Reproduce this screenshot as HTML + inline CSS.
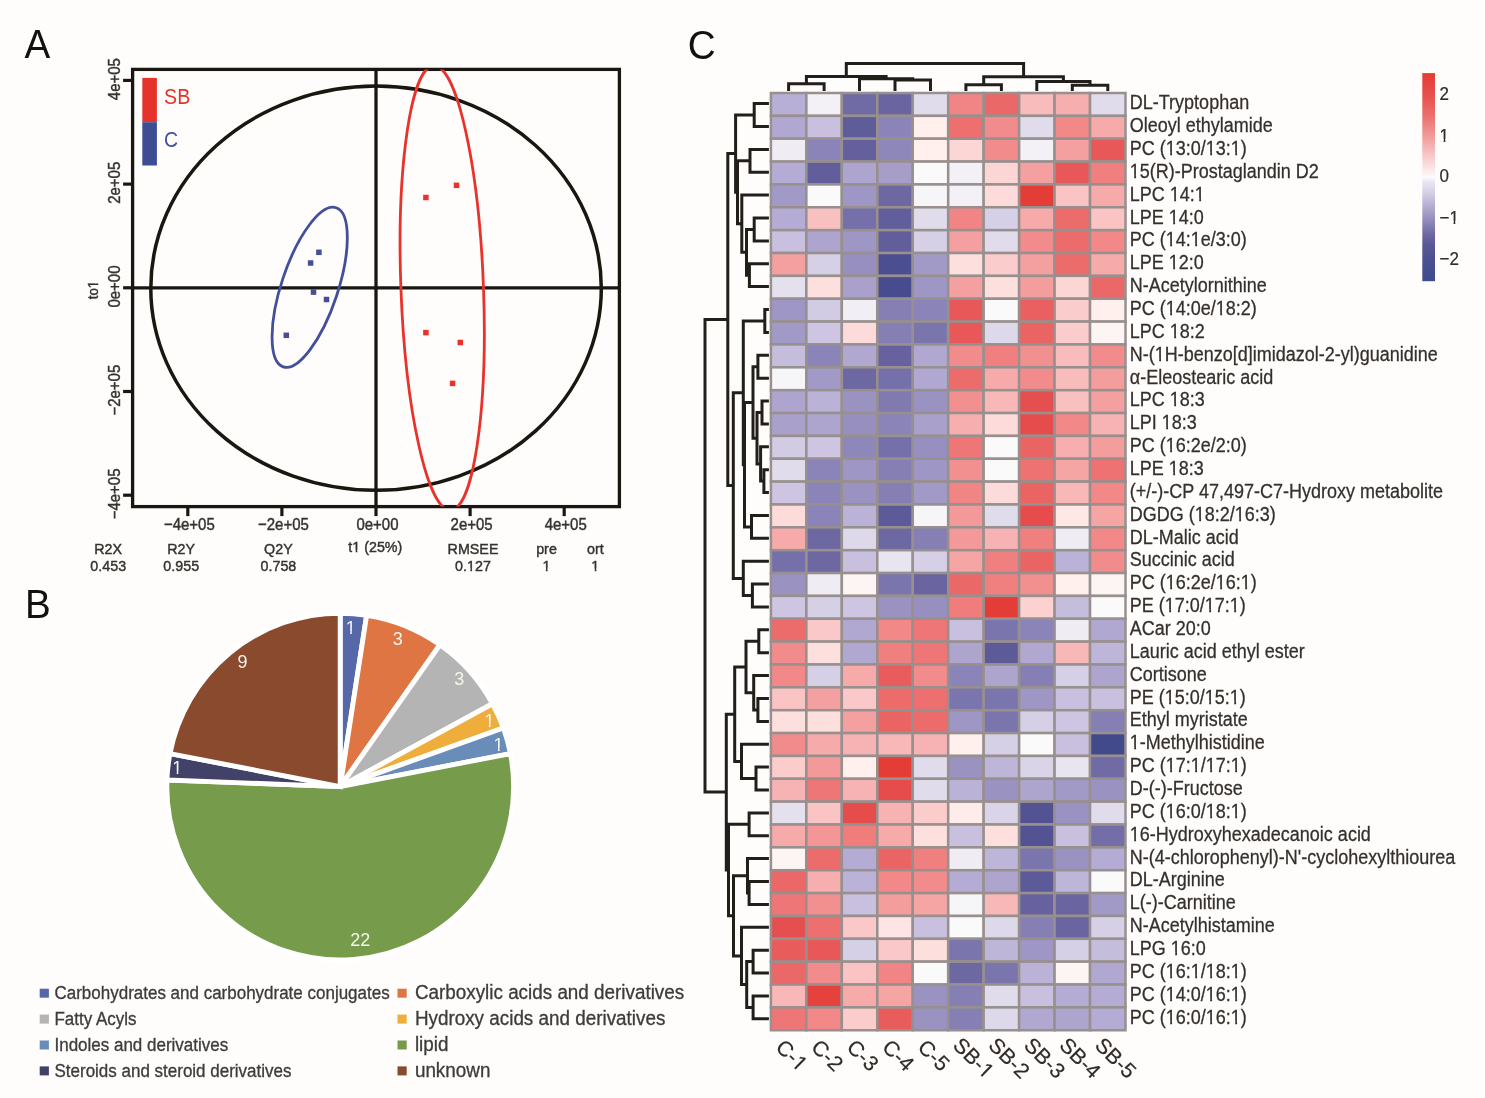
<!DOCTYPE html><html><head><meta charset="utf-8"><style>html,body{margin:0;padding:0;background:#fefdfc;}svg{display:block;will-change:transform} text{font-family:"Liberation Sans",sans-serif}</style></head><body>
<svg width="1485" height="1098" viewBox="0 0 1485 1098">
<rect width="1485" height="1098" fill="#fefdfc"/>
<g fill="#111" font-size="38.6">
<g transform="translate(24.6 58.2) scale(1 1.035)"><text id="t1" >A</text></g>
<g transform="translate(25 618.2) scale(1 1.035)"><text id="t2" >B</text></g>
<g transform="translate(687.8 58.5) scale(1 1.05)"><text id="t3" >C</text></g>
</g>
<defs><clipPath id="fc2"><rect x="127.6" y="69.4" width="496.79999999999995" height="437.20000000000005"/></clipPath><clipPath id="fc"><rect x="132.6" y="69.4" width="486.79999999999995" height="437.20000000000005"/></clipPath></defs>
<ellipse cx="376.05" cy="288.2" rx="225.25" ry="202.1" fill="none" stroke="#1a1711" stroke-width="3.5"/>
<line x1="132.6" y1="287.8" x2="619.4" y2="287.8" stroke="#1a1711" stroke-width="3.3"/>
<line x1="376.0" y1="69.4" x2="376.0" y2="506.6" stroke="#1a1711" stroke-width="3.3"/>
<ellipse cx="0" cy="0" rx="83.8" ry="28.2" transform="translate(309.7 287.3) rotate(-71.6)" fill="none" stroke="#434f98" stroke-width="2.8"/>
<rect x="316.15" y="249.55" width="5.5" height="5.5" fill="#434f98"/>
<rect x="307.85" y="260.25" width="5.5" height="5.5" fill="#434f98"/>
<rect x="310.75" y="289.35" width="5.5" height="5.5" fill="#434f98"/>
<rect x="323.75" y="296.75" width="5.5" height="5.5" fill="#434f98"/>
<rect x="283.55" y="332.55" width="5.5" height="5.5" fill="#434f98"/>
<rect x="453.75" y="182.55" width="5.5" height="5.5" fill="#e8332c"/>
<rect x="423.15" y="194.75" width="5.5" height="5.5" fill="#e8332c"/>
<rect x="423.15" y="329.85" width="5.5" height="5.5" fill="#e8332c"/>
<rect x="457.55" y="339.75" width="5.5" height="5.5" fill="#e8332c"/>
<rect x="449.85" y="380.65" width="5.5" height="5.5" fill="#e8332c"/>
<rect x="132.6" y="69.4" width="486.79999999999995" height="437.20000000000005" fill="none" stroke="#1a1711" stroke-width="3.3"/>
<g clip-path="url(#fc2)"><ellipse cx="0" cy="0" rx="41.3" ry="222.2" transform="translate(442.2 288) skewX(2.1)" fill="none" stroke="#e8332c" stroke-width="2.8"/></g>
<rect x="142.3" y="77.9" width="14.6" height="44.3" fill="#e5332b"/>
<rect x="142.3" y="122.2" width="14.6" height="43.3" fill="#3e4c94"/>
<g transform="translate(164.1 103.5) scale(1.03 1.12)"><text id="t4" font-size="19" fill="#e5332b">SB</text></g>
<g transform="translate(164.1 147.3) scale(1.03 1.12)"><text id="t5" font-size="19" fill="#40509c">C</text></g>
<g stroke="#1a1711" stroke-width="3.2"><line x1="187.8" y1="506.6" x2="187.8" y2="516.1" /><line x1="132.6" y1="495.2" x2="123.1" y2="495.2" /><line x1="281.9" y1="506.6" x2="281.9" y2="516.1" /><line x1="132.6" y1="391.5" x2="123.1" y2="391.5" /><line x1="376.0" y1="506.6" x2="376.0" y2="516.1" /><line x1="132.6" y1="287.8" x2="123.1" y2="287.8" /><line x1="470.1" y1="506.6" x2="470.1" y2="516.1" /><line x1="132.6" y1="184.1" x2="123.1" y2="184.1" /><line x1="564.2" y1="506.6" x2="564.2" y2="516.1" /><line x1="132.6" y1="80.4" x2="123.1" y2="80.4" /></g>
<g font-size="15" fill="#36322e" stroke="#36322e" stroke-width="0.4" text-anchor="middle">
<g transform="translate(189.3 529.8) scale(1 1.12)"><text id="t6" >−4e+05</text></g>
<g transform="translate(283.4 529.8) scale(1 1.12)"><text id="t7" >−2e+05</text></g>
<g transform="translate(377.5 529.8) scale(1 1.12)"><text id="t8" >0e+00</text></g>
<g transform="translate(471.6 529.8) scale(1 1.12)"><text id="t9" >2e+05</text></g>
<g transform="translate(565.7 529.8) scale(1 1.12)"><text id="t10" >4e+05</text></g>
<g transform="translate(120.2 493.9) rotate(-90) scale(1 1.09)"><text id="t11" >−4e+05</text></g>
<g transform="translate(120.2 390.2) rotate(-90) scale(1 1.09)"><text id="t12" >−2e+05</text></g>
<g transform="translate(120.2 286.5) rotate(-90) scale(1 1.09)"><text id="t13" >0e+00</text></g>
<g transform="translate(120.2 182.8) rotate(-90) scale(1 1.09)"><text id="t14" >2e+05</text></g>
<g transform="translate(120.2 79.1) rotate(-90) scale(1 1.09)"><text id="t15" >4e+05</text></g>
<g transform="translate(97.8 290) rotate(-90) scale(1 1.12)"><text id="t16" font-size="13.3">to1</text><rect x="2.05" y="-2.19" width="2.91" height="3.49" fill="#fefdfc" stroke="none"/><rect x="6.58" y="-2.19" width="2.81" height="3.49" fill="#fefdfc" stroke="none"/></g>
</g>
<g font-size="14.3" fill="#36322e" stroke="#36322e" stroke-width="0.4" text-anchor="middle">
<g transform="translate(108.2 553.6) scale(1 1.08)"><text id="t17" >R2X</text></g>
<g transform="translate(108.2 571) scale(1 1.08)"><text id="t18" >0.453</text></g>
<g transform="translate(181.2 553.6) scale(1 1.08)"><text id="t19" >R2Y</text></g>
<g transform="translate(181.2 571) scale(1 1.08)"><text id="t20" >0.955</text></g>
<g transform="translate(278.4 553.6) scale(1 1.08)"><text id="t21" >Q2Y</text></g>
<g transform="translate(278.4 571) scale(1 1.08)"><text id="t22" >0.758</text></g>
<g transform="translate(473 553.6) scale(1 1.08)"><text id="t23" >RMSEE</text></g>
<g transform="translate(473 571) scale(1 1.08)"><text id="t24" >0.127</text><rect x="-5.69" y="-2.27" width="3.09" height="3.57" fill="#fefdfc" stroke="none"/><rect x="-0.89" y="-2.27" width="2.98" height="3.57" fill="#fefdfc" stroke="none"/></g>
<g transform="translate(546.5 553.6) scale(1 1.08)"><text id="t25" >pre</text></g>
<g transform="translate(546.5 571) scale(1 1.08)"><text id="t26" >1</text><rect x="-3.69" y="-2.27" width="3.09" height="3.57" fill="#fefdfc" stroke="none"/><rect x="1.10" y="-2.27" width="2.98" height="3.57" fill="#fefdfc" stroke="none"/></g>
<g transform="translate(595.3 553.6) scale(1 1.08)"><text id="t27" >ort</text></g>
<g transform="translate(595.3 571) scale(1 1.08)"><text id="t28" >1</text><rect x="-3.69" y="-2.27" width="3.09" height="3.57" fill="#fefdfc" stroke="none"/><rect x="1.10" y="-2.27" width="2.98" height="3.57" fill="#fefdfc" stroke="none"/></g>
<g transform="translate(375.3 552.3) scale(1 1.08)"><text id="t29" >t1 (25%)</text><rect x="-22.76" y="-2.27" width="3.09" height="3.57" fill="#fefdfc" stroke="none"/><rect x="-17.96" y="-2.27" width="2.98" height="3.57" fill="#fefdfc" stroke="none"/></g>
</g>
<g stroke="#ffffff" stroke-width="4.9" stroke-linejoin="miter"><path d="M340.2,786.6 L340.20,613.20 A173.4,173.4 0 0 1 366.67,615.23 Z" fill="#5668a8"/><path d="M340.2,786.6 L366.67,615.23 A173.4,173.4 0 0 1 439.96,644.77 Z" fill="#de7542"/><path d="M340.2,786.6 L439.96,644.77 A173.4,173.4 0 0 1 492.53,703.76 Z" fill="#b4b4b4"/><path d="M340.2,786.6 L492.53,703.76 A173.4,173.4 0 0 1 503.39,727.99 Z" fill="#efad3b"/><path d="M340.2,786.6 L503.39,727.99 A173.4,173.4 0 0 1 510.43,753.59 Z" fill="#6a8cb9"/><path d="M340.2,786.6 L510.43,753.59 A173.4,173.4 0 1 1 166.93,779.96 Z" fill="#769b4a"/><path d="M340.2,786.6 L166.93,779.96 A173.4,173.4 0 0 1 169.97,753.59 Z" fill="#424268"/><path d="M340.2,786.6 L169.97,753.59 A173.4,173.4 0 0 1 340.20,613.20 Z" fill="#8a4a2d"/></g>
<g font-size="18" fill="#f3f5ee" text-anchor="middle">
<g transform="translate(350.7 633.6)"><text id="t30" >1</text><rect x="-4.24" y="-2.35" width="3.74" height="3.65" fill="#5668a8" stroke="none"/><rect x="1.13" y="-2.35" width="3.60" height="3.65" fill="#5668a8" stroke="none"/></g>
<g transform="translate(397.8 644.9)"><text id="t31" >3</text></g>
<g transform="translate(459.3 685.3)"><text id="t32" >3</text></g>
<g transform="translate(489.4 726.8)"><text id="t33" >1</text><rect x="-4.24" y="-2.35" width="3.74" height="3.65" fill="#efad3b" stroke="none"/><rect x="1.13" y="-2.35" width="3.60" height="3.65" fill="#efad3b" stroke="none"/></g>
<g transform="translate(498.5 750.5)"><text id="t34" >1</text><rect x="-4.24" y="-2.35" width="3.74" height="3.65" fill="#6a8cb9" stroke="none"/><rect x="1.13" y="-2.35" width="3.60" height="3.65" fill="#6a8cb9" stroke="none"/></g>
<g transform="translate(360.3 946.0)"><text id="t35" >22</text></g>
<g transform="translate(177.2 773.9)"><text id="t36" >1</text><rect x="-4.24" y="-2.35" width="3.74" height="3.65" fill="#424268" stroke="none"/><rect x="1.13" y="-2.35" width="3.60" height="3.65" fill="#424268" stroke="none"/></g>
<g transform="translate(242.5 667.6)"><text id="t37" >9</text></g>
</g>
<rect x="39.7" y="988.7" width="9.2" height="9" fill="#5668a8"/>
<g transform="translate(54.5 998.8) scale(1 1.085)"><text id="t38" font-size="17.0" fill="#3c3c3c" stroke="#3c3c3c" stroke-width="0.3">Carbohydrates and carbohydrate conjugates</text></g>
<rect x="39.7" y="1014.6" width="9.2" height="9" fill="#b4b4b4"/>
<g transform="translate(54.5 1024.7) scale(1 1.085)"><text id="t39" font-size="17.0" fill="#3c3c3c" stroke="#3c3c3c" stroke-width="0.3">Fatty Acyls</text></g>
<rect x="39.7" y="1040.5" width="9.2" height="9" fill="#6a8cb9"/>
<g transform="translate(54.5 1050.6) scale(1 1.085)"><text id="t40" font-size="17.0" fill="#3c3c3c" stroke="#3c3c3c" stroke-width="0.3">Indoles and derivatives</text></g>
<rect x="39.7" y="1066.4" width="9.2" height="9" fill="#424268"/>
<g transform="translate(54.5 1076.5) scale(1 1.085)"><text id="t41" font-size="17.0" fill="#3c3c3c" stroke="#3c3c3c" stroke-width="0.3">Steroids and steroid derivatives</text></g>
<rect x="397.5" y="988.7" width="9.2" height="9" fill="#de7542"/>
<g transform="translate(414.9 998.8) scale(1 1.09)"><text id="t42" font-size="18.86" fill="#3c3c3c" stroke="#3c3c3c" stroke-width="0.3">Carboxylic acids and derivatives</text></g>
<rect x="397.5" y="1014.6" width="9.2" height="9" fill="#efad3b"/>
<g transform="translate(414.9 1024.7) scale(1 1.09)"><text id="t43" font-size="18.86" fill="#3c3c3c" stroke="#3c3c3c" stroke-width="0.3">Hydroxy acids and derivatives</text></g>
<rect x="397.5" y="1040.5" width="9.2" height="9" fill="#769b4a"/>
<g transform="translate(414.9 1050.6) scale(1 1.09)"><text id="t44" font-size="18.86" fill="#3c3c3c" stroke="#3c3c3c" stroke-width="0.3">lipid</text></g>
<rect x="397.5" y="1066.4" width="9.2" height="9" fill="#8a4a2d"/>
<g transform="translate(414.9 1076.5) scale(1 1.09)"><text id="t45" font-size="18.86" fill="#3c3c3c" stroke="#3c3c3c" stroke-width="0.3">unknown</text></g>
<g stroke="#98908e" stroke-width="2.5"><rect x="770.90" y="93.00" width="35.46" height="22.86" fill="#b7afd6"/><rect x="806.36" y="93.00" width="35.46" height="22.86" fill="#f3f0f6"/><rect x="841.82" y="93.00" width="35.46" height="22.86" fill="#706aa5"/><rect x="877.28" y="93.00" width="35.46" height="22.86" fill="#6a64a0"/><rect x="912.74" y="93.00" width="35.46" height="22.86" fill="#e1dcec"/><rect x="948.20" y="93.00" width="35.46" height="22.86" fill="#f18484"/><rect x="983.66" y="93.00" width="35.46" height="22.86" fill="#eb6868"/><rect x="1019.12" y="93.00" width="35.46" height="22.86" fill="#f9bcbc"/><rect x="1054.58" y="93.00" width="35.46" height="22.86" fill="#f7aeae"/><rect x="1090.04" y="93.00" width="35.46" height="22.86" fill="#e1dcec"/><rect x="770.90" y="115.86" width="35.46" height="22.86" fill="#b0a8d1"/><rect x="806.36" y="115.86" width="35.46" height="22.86" fill="#c8c0de"/><rect x="841.82" y="115.86" width="35.46" height="22.86" fill="#5f5c9a"/><rect x="877.28" y="115.86" width="35.46" height="22.86" fill="#8a84b8"/><rect x="912.74" y="115.86" width="35.46" height="22.86" fill="#fff0ee"/><rect x="948.20" y="115.86" width="35.46" height="22.86" fill="#ed6f6f"/><rect x="983.66" y="115.86" width="35.46" height="22.86" fill="#f28c8c"/><rect x="1019.12" y="115.86" width="35.46" height="22.86" fill="#e1dcec"/><rect x="1054.58" y="115.86" width="35.46" height="22.86" fill="#f28888"/><rect x="1090.04" y="115.86" width="35.46" height="22.86" fill="#f6aaaa"/><rect x="770.90" y="138.72" width="35.46" height="22.86" fill="#efecf4"/><rect x="806.36" y="138.72" width="35.46" height="22.86" fill="#8a84b8"/><rect x="841.82" y="138.72" width="35.46" height="22.86" fill="#65609d"/><rect x="877.28" y="138.72" width="35.46" height="22.86" fill="#8e88ba"/><rect x="912.74" y="138.72" width="35.46" height="22.86" fill="#fff0ee"/><rect x="948.20" y="138.72" width="35.46" height="22.86" fill="#fcd6d5"/><rect x="983.66" y="138.72" width="35.46" height="22.86" fill="#f28c8c"/><rect x="1019.12" y="138.72" width="35.46" height="22.86" fill="#f3f0f6"/><rect x="1054.58" y="138.72" width="35.46" height="22.86" fill="#f5a0a0"/><rect x="1090.04" y="138.72" width="35.46" height="22.86" fill="#e85858"/><rect x="770.90" y="161.58" width="35.46" height="22.86" fill="#b4acd4"/><rect x="806.36" y="161.58" width="35.46" height="22.86" fill="#625e9c"/><rect x="841.82" y="161.58" width="35.46" height="22.86" fill="#ada5ce"/><rect x="877.28" y="161.58" width="35.46" height="22.86" fill="#a69ec9"/><rect x="912.74" y="161.58" width="35.46" height="22.86" fill="#fafafa"/><rect x="948.20" y="161.58" width="35.46" height="22.86" fill="#f3f0f6"/><rect x="983.66" y="161.58" width="35.46" height="22.86" fill="#fcd6d5"/><rect x="1019.12" y="161.58" width="35.46" height="22.86" fill="#f5a0a0"/><rect x="1054.58" y="161.58" width="35.46" height="22.86" fill="#e85858"/><rect x="1090.04" y="161.58" width="35.46" height="22.86" fill="#f08080"/><rect x="770.90" y="184.44" width="35.46" height="22.86" fill="#a29ac6"/><rect x="806.36" y="184.44" width="35.46" height="22.86" fill="#fafafa"/><rect x="841.82" y="184.44" width="35.46" height="22.86" fill="#9e96c4"/><rect x="877.28" y="184.44" width="35.46" height="22.86" fill="#6d67a2"/><rect x="912.74" y="184.44" width="35.46" height="22.86" fill="#f6f5f8"/><rect x="948.20" y="184.44" width="35.46" height="22.86" fill="#f3f0f6"/><rect x="983.66" y="184.44" width="35.46" height="22.86" fill="#fcdbda"/><rect x="1019.12" y="184.44" width="35.46" height="22.86" fill="#e43c36"/><rect x="1054.58" y="184.44" width="35.46" height="22.86" fill="#fac4c4"/><rect x="1090.04" y="184.44" width="35.46" height="22.86" fill="#f6aaaa"/><rect x="770.90" y="207.30" width="35.46" height="22.86" fill="#b4acd4"/><rect x="806.36" y="207.30" width="35.46" height="22.86" fill="#f9c0c0"/><rect x="841.82" y="207.30" width="35.46" height="22.86" fill="#7670aa"/><rect x="877.28" y="207.30" width="35.46" height="22.86" fill="#625e9c"/><rect x="912.74" y="207.30" width="35.46" height="22.86" fill="#e1dcec"/><rect x="948.20" y="207.30" width="35.46" height="22.86" fill="#f18484"/><rect x="983.66" y="207.30" width="35.46" height="22.86" fill="#d6d0e6"/><rect x="1019.12" y="207.30" width="35.46" height="22.86" fill="#f6aaaa"/><rect x="1054.58" y="207.30" width="35.46" height="22.86" fill="#ec6c6c"/><rect x="1090.04" y="207.30" width="35.46" height="22.86" fill="#fac4c4"/><rect x="770.90" y="230.16" width="35.46" height="22.86" fill="#c8c0de"/><rect x="806.36" y="230.16" width="35.46" height="22.86" fill="#ada5ce"/><rect x="841.82" y="230.16" width="35.46" height="22.86" fill="#9e96c4"/><rect x="877.28" y="230.16" width="35.46" height="22.86" fill="#625e9c"/><rect x="912.74" y="230.16" width="35.46" height="22.86" fill="#d6d0e6"/><rect x="948.20" y="230.16" width="35.46" height="22.86" fill="#f5a0a0"/><rect x="983.66" y="230.16" width="35.46" height="22.86" fill="#e1dcec"/><rect x="1019.12" y="230.16" width="35.46" height="22.86" fill="#f28c8c"/><rect x="1054.58" y="230.16" width="35.46" height="22.86" fill="#ec6c6c"/><rect x="1090.04" y="230.16" width="35.46" height="22.86" fill="#f28888"/><rect x="770.90" y="253.02" width="35.46" height="22.86" fill="#f5a0a0"/><rect x="806.36" y="253.02" width="35.46" height="22.86" fill="#d6d0e6"/><rect x="841.82" y="253.02" width="35.46" height="22.86" fill="#968fbf"/><rect x="877.28" y="253.02" width="35.46" height="22.86" fill="#4b4e90"/><rect x="912.74" y="253.02" width="35.46" height="22.86" fill="#a29ac6"/><rect x="948.20" y="253.02" width="35.46" height="22.86" fill="#fde0de"/><rect x="983.66" y="253.02" width="35.46" height="22.86" fill="#fbcccc"/><rect x="1019.12" y="253.02" width="35.46" height="22.86" fill="#f5a0a0"/><rect x="1054.58" y="253.02" width="35.46" height="22.86" fill="#ec6c6c"/><rect x="1090.04" y="253.02" width="35.46" height="22.86" fill="#f6aaaa"/><rect x="770.90" y="275.88" width="35.46" height="22.86" fill="#e5e0ee"/><rect x="806.36" y="275.88" width="35.46" height="22.86" fill="#fde0de"/><rect x="841.82" y="275.88" width="35.46" height="22.86" fill="#a9a1cc"/><rect x="877.28" y="275.88" width="35.46" height="22.86" fill="#474c8e"/><rect x="912.74" y="275.88" width="35.46" height="22.86" fill="#9e96c4"/><rect x="948.20" y="275.88" width="35.46" height="22.86" fill="#f5a0a0"/><rect x="983.66" y="275.88" width="35.46" height="22.86" fill="#fde0de"/><rect x="1019.12" y="275.88" width="35.46" height="22.86" fill="#f49d9d"/><rect x="1054.58" y="275.88" width="35.46" height="22.86" fill="#fcd6d5"/><rect x="1090.04" y="275.88" width="35.46" height="22.86" fill="#eb6868"/><rect x="770.90" y="298.74" width="35.46" height="22.86" fill="#9e96c4"/><rect x="806.36" y="298.74" width="35.46" height="22.86" fill="#d1cbe3"/><rect x="841.82" y="298.74" width="35.46" height="22.86" fill="#f2eef5"/><rect x="877.28" y="298.74" width="35.46" height="22.86" fill="#857fb4"/><rect x="912.74" y="298.74" width="35.46" height="22.86" fill="#8a84b8"/><rect x="948.20" y="298.74" width="35.46" height="22.86" fill="#e85858"/><rect x="983.66" y="298.74" width="35.46" height="22.86" fill="#fafafa"/><rect x="1019.12" y="298.74" width="35.46" height="22.86" fill="#ea6060"/><rect x="1054.58" y="298.74" width="35.46" height="22.86" fill="#fbcccc"/><rect x="1090.04" y="298.74" width="35.46" height="22.86" fill="#fff0ee"/><rect x="770.90" y="321.60" width="35.46" height="22.86" fill="#a29ac6"/><rect x="806.36" y="321.60" width="35.46" height="22.86" fill="#cdc5e1"/><rect x="841.82" y="321.60" width="35.46" height="22.86" fill="#fcdbda"/><rect x="877.28" y="321.60" width="35.46" height="22.86" fill="#857fb4"/><rect x="912.74" y="321.60" width="35.46" height="22.86" fill="#7b75ae"/><rect x="948.20" y="321.60" width="35.46" height="22.86" fill="#e85858"/><rect x="983.66" y="321.60" width="35.46" height="22.86" fill="#ddd8ea"/><rect x="1019.12" y="321.60" width="35.46" height="22.86" fill="#ea6464"/><rect x="1054.58" y="321.60" width="35.46" height="22.86" fill="#fbcccc"/><rect x="1090.04" y="321.60" width="35.46" height="22.86" fill="#fcf5f4"/><rect x="770.90" y="344.46" width="35.46" height="22.86" fill="#c5bddc"/><rect x="806.36" y="344.46" width="35.46" height="22.86" fill="#8a84b8"/><rect x="841.82" y="344.46" width="35.46" height="22.86" fill="#b0a8d1"/><rect x="877.28" y="344.46" width="35.46" height="22.86" fill="#67629f"/><rect x="912.74" y="344.46" width="35.46" height="22.86" fill="#b0a8d1"/><rect x="948.20" y="344.46" width="35.46" height="22.86" fill="#f28c8c"/><rect x="983.66" y="344.46" width="35.46" height="22.86" fill="#f08080"/><rect x="1019.12" y="344.46" width="35.46" height="22.86" fill="#f28f8f"/><rect x="1054.58" y="344.46" width="35.46" height="22.86" fill="#f9bcbc"/><rect x="1090.04" y="344.46" width="35.46" height="22.86" fill="#f28c8c"/><rect x="770.90" y="367.32" width="35.46" height="22.86" fill="#f6f5f8"/><rect x="806.36" y="367.32" width="35.46" height="22.86" fill="#a29ac6"/><rect x="841.82" y="367.32" width="35.46" height="22.86" fill="#6d67a2"/><rect x="877.28" y="367.32" width="35.46" height="22.86" fill="#7670aa"/><rect x="912.74" y="367.32" width="35.46" height="22.86" fill="#b0a8d1"/><rect x="948.20" y="367.32" width="35.46" height="22.86" fill="#ec6c6c"/><rect x="983.66" y="367.32" width="35.46" height="22.86" fill="#f6aaaa"/><rect x="1019.12" y="367.32" width="35.46" height="22.86" fill="#f28c8c"/><rect x="1054.58" y="367.32" width="35.46" height="22.86" fill="#f9bcbc"/><rect x="1090.04" y="367.32" width="35.46" height="22.86" fill="#f49d9d"/><rect x="770.90" y="390.18" width="35.46" height="22.86" fill="#ada5ce"/><rect x="806.36" y="390.18" width="35.46" height="22.86" fill="#bbb3d7"/><rect x="841.82" y="390.18" width="35.46" height="22.86" fill="#9a93c1"/><rect x="877.28" y="390.18" width="35.46" height="22.86" fill="#807ab1"/><rect x="912.74" y="390.18" width="35.46" height="22.86" fill="#9a93c1"/><rect x="948.20" y="390.18" width="35.46" height="22.86" fill="#f28f8f"/><rect x="983.66" y="390.18" width="35.46" height="22.86" fill="#f8b8b8"/><rect x="1019.12" y="390.18" width="35.46" height="22.86" fill="#e64f4f"/><rect x="1054.58" y="390.18" width="35.46" height="22.86" fill="#f9c0c0"/><rect x="1090.04" y="390.18" width="35.46" height="22.86" fill="#f5a0a0"/><rect x="770.90" y="413.04" width="35.46" height="22.86" fill="#a9a1cc"/><rect x="806.36" y="413.04" width="35.46" height="22.86" fill="#ada5ce"/><rect x="841.82" y="413.04" width="35.46" height="22.86" fill="#968fbf"/><rect x="877.28" y="413.04" width="35.46" height="22.86" fill="#8a84b8"/><rect x="912.74" y="413.04" width="35.46" height="22.86" fill="#a9a1cc"/><rect x="948.20" y="413.04" width="35.46" height="22.86" fill="#f7aeae"/><rect x="983.66" y="413.04" width="35.46" height="22.86" fill="#fcdbda"/><rect x="1019.12" y="413.04" width="35.46" height="22.86" fill="#e64c4c"/><rect x="1054.58" y="413.04" width="35.46" height="22.86" fill="#f28888"/><rect x="1090.04" y="413.04" width="35.46" height="22.86" fill="#f7b3b3"/><rect x="770.90" y="435.90" width="35.46" height="22.86" fill="#d1cbe3"/><rect x="806.36" y="435.90" width="35.46" height="22.86" fill="#cdc5e1"/><rect x="841.82" y="435.90" width="35.46" height="22.86" fill="#8e88ba"/><rect x="877.28" y="435.90" width="35.46" height="22.86" fill="#7670aa"/><rect x="912.74" y="435.90" width="35.46" height="22.86" fill="#968fbf"/><rect x="948.20" y="435.90" width="35.46" height="22.86" fill="#ee7676"/><rect x="983.66" y="435.90" width="35.46" height="22.86" fill="#fafafa"/><rect x="1019.12" y="435.90" width="35.46" height="22.86" fill="#ea6464"/><rect x="1054.58" y="435.90" width="35.46" height="22.86" fill="#f7aeae"/><rect x="1090.04" y="435.90" width="35.46" height="22.86" fill="#f49d9d"/><rect x="770.90" y="458.76" width="35.46" height="22.86" fill="#e1dcec"/><rect x="806.36" y="458.76" width="35.46" height="22.86" fill="#8a84b8"/><rect x="841.82" y="458.76" width="35.46" height="22.86" fill="#9e96c4"/><rect x="877.28" y="458.76" width="35.46" height="22.86" fill="#857fb4"/><rect x="912.74" y="458.76" width="35.46" height="22.86" fill="#9e96c4"/><rect x="948.20" y="458.76" width="35.46" height="22.86" fill="#f28f8f"/><rect x="983.66" y="458.76" width="35.46" height="22.86" fill="#fafafa"/><rect x="1019.12" y="458.76" width="35.46" height="22.86" fill="#ee7272"/><rect x="1054.58" y="458.76" width="35.46" height="22.86" fill="#f6a5a5"/><rect x="1090.04" y="458.76" width="35.46" height="22.86" fill="#ee7272"/><rect x="770.90" y="481.62" width="35.46" height="22.86" fill="#cdc5e1"/><rect x="806.36" y="481.62" width="35.46" height="22.86" fill="#8a84b8"/><rect x="841.82" y="481.62" width="35.46" height="22.86" fill="#9a93c1"/><rect x="877.28" y="481.62" width="35.46" height="22.86" fill="#857fb4"/><rect x="912.74" y="481.62" width="35.46" height="22.86" fill="#a29ac6"/><rect x="948.20" y="481.62" width="35.46" height="22.86" fill="#f18484"/><rect x="983.66" y="481.62" width="35.46" height="22.86" fill="#fcdbda"/><rect x="1019.12" y="481.62" width="35.46" height="22.86" fill="#ea6464"/><rect x="1054.58" y="481.62" width="35.46" height="22.86" fill="#f8b8b8"/><rect x="1090.04" y="481.62" width="35.46" height="22.86" fill="#f28888"/><rect x="770.90" y="504.48" width="35.46" height="22.86" fill="#fcdbda"/><rect x="806.36" y="504.48" width="35.46" height="22.86" fill="#8a84b8"/><rect x="841.82" y="504.48" width="35.46" height="22.86" fill="#bbb3d7"/><rect x="877.28" y="504.48" width="35.46" height="22.86" fill="#5c5a99"/><rect x="912.74" y="504.48" width="35.46" height="22.86" fill="#f6f5f8"/><rect x="948.20" y="504.48" width="35.46" height="22.86" fill="#f49999"/><rect x="983.66" y="504.48" width="35.46" height="22.86" fill="#e1dcec"/><rect x="1019.12" y="504.48" width="35.46" height="22.86" fill="#e64c4c"/><rect x="1054.58" y="504.48" width="35.46" height="22.86" fill="#fee8e6"/><rect x="1090.04" y="504.48" width="35.46" height="22.86" fill="#f6a5a5"/><rect x="770.90" y="527.34" width="35.46" height="22.86" fill="#f6aaaa"/><rect x="806.36" y="527.34" width="35.46" height="22.86" fill="#6d67a2"/><rect x="841.82" y="527.34" width="35.46" height="22.86" fill="#ddd8ea"/><rect x="877.28" y="527.34" width="35.46" height="22.86" fill="#6d67a2"/><rect x="912.74" y="527.34" width="35.46" height="22.86" fill="#857fb4"/><rect x="948.20" y="527.34" width="35.46" height="22.86" fill="#f49999"/><rect x="983.66" y="527.34" width="35.46" height="22.86" fill="#f7b3b3"/><rect x="1019.12" y="527.34" width="35.46" height="22.86" fill="#f08080"/><rect x="1054.58" y="527.34" width="35.46" height="22.86" fill="#efecf4"/><rect x="1090.04" y="527.34" width="35.46" height="22.86" fill="#f28888"/><rect x="770.90" y="550.20" width="35.46" height="22.86" fill="#7670aa"/><rect x="806.36" y="550.20" width="35.46" height="22.86" fill="#6d67a2"/><rect x="841.82" y="550.20" width="35.46" height="22.86" fill="#c8c0de"/><rect x="877.28" y="550.20" width="35.46" height="22.86" fill="#e8e4f0"/><rect x="912.74" y="550.20" width="35.46" height="22.86" fill="#d6d0e6"/><rect x="948.20" y="550.20" width="35.46" height="22.86" fill="#f6a5a5"/><rect x="983.66" y="550.20" width="35.46" height="22.86" fill="#f08080"/><rect x="1019.12" y="550.20" width="35.46" height="22.86" fill="#ea6464"/><rect x="1054.58" y="550.20" width="35.46" height="22.86" fill="#bbb3d7"/><rect x="1090.04" y="550.20" width="35.46" height="22.86" fill="#f28c8c"/><rect x="770.90" y="573.05" width="35.46" height="22.86" fill="#9a93c1"/><rect x="806.36" y="573.05" width="35.46" height="22.86" fill="#efecf4"/><rect x="841.82" y="573.05" width="35.46" height="22.86" fill="#fcf5f4"/><rect x="877.28" y="573.05" width="35.46" height="22.86" fill="#7b75ae"/><rect x="912.74" y="573.05" width="35.46" height="22.86" fill="#6a64a0"/><rect x="948.20" y="573.05" width="35.46" height="22.86" fill="#eb6868"/><rect x="983.66" y="573.05" width="35.46" height="22.86" fill="#f08080"/><rect x="1019.12" y="573.05" width="35.46" height="22.86" fill="#f28f8f"/><rect x="1054.58" y="573.05" width="35.46" height="22.86" fill="#fff0ee"/><rect x="1090.04" y="573.05" width="35.46" height="22.86" fill="#fcf5f4"/><rect x="770.90" y="595.91" width="35.46" height="22.86" fill="#cdc5e1"/><rect x="806.36" y="595.91" width="35.46" height="22.86" fill="#d6d0e6"/><rect x="841.82" y="595.91" width="35.46" height="22.86" fill="#cdc5e1"/><rect x="877.28" y="595.91" width="35.46" height="22.86" fill="#9a93c1"/><rect x="912.74" y="595.91" width="35.46" height="22.86" fill="#968fbf"/><rect x="948.20" y="595.91" width="35.46" height="22.86" fill="#f07c7c"/><rect x="983.66" y="595.91" width="35.46" height="22.86" fill="#e43c36"/><rect x="1019.12" y="595.91" width="35.46" height="22.86" fill="#fcd1d0"/><rect x="1054.58" y="595.91" width="35.46" height="22.86" fill="#c5bddc"/><rect x="1090.04" y="595.91" width="35.46" height="22.86" fill="#fafafa"/><rect x="770.90" y="618.77" width="35.46" height="22.86" fill="#ec6c6c"/><rect x="806.36" y="618.77" width="35.46" height="22.86" fill="#fac8c8"/><rect x="841.82" y="618.77" width="35.46" height="22.86" fill="#b0a8d1"/><rect x="877.28" y="618.77" width="35.46" height="22.86" fill="#f28888"/><rect x="912.74" y="618.77" width="35.46" height="22.86" fill="#ee7676"/><rect x="948.20" y="618.77" width="35.46" height="22.86" fill="#c8c0de"/><rect x="983.66" y="618.77" width="35.46" height="22.86" fill="#7b75ae"/><rect x="1019.12" y="618.77" width="35.46" height="22.86" fill="#8a84b8"/><rect x="1054.58" y="618.77" width="35.46" height="22.86" fill="#efecf4"/><rect x="1090.04" y="618.77" width="35.46" height="22.86" fill="#b0a8d1"/><rect x="770.90" y="641.63" width="35.46" height="22.86" fill="#f28c8c"/><rect x="806.36" y="641.63" width="35.46" height="22.86" fill="#fde0de"/><rect x="841.82" y="641.63" width="35.46" height="22.86" fill="#b0a8d1"/><rect x="877.28" y="641.63" width="35.46" height="22.86" fill="#f08080"/><rect x="912.74" y="641.63" width="35.46" height="22.86" fill="#ee7676"/><rect x="948.20" y="641.63" width="35.46" height="22.86" fill="#ada5ce"/><rect x="983.66" y="641.63" width="35.46" height="22.86" fill="#5c5a99"/><rect x="1019.12" y="641.63" width="35.46" height="22.86" fill="#b0a8d1"/><rect x="1054.58" y="641.63" width="35.46" height="22.86" fill="#f8b8b8"/><rect x="1090.04" y="641.63" width="35.46" height="22.86" fill="#beb6d9"/><rect x="770.90" y="664.49" width="35.46" height="22.86" fill="#f28888"/><rect x="806.36" y="664.49" width="35.46" height="22.86" fill="#d6d0e6"/><rect x="841.82" y="664.49" width="35.46" height="22.86" fill="#f6aaaa"/><rect x="877.28" y="664.49" width="35.46" height="22.86" fill="#e95c5c"/><rect x="912.74" y="664.49" width="35.46" height="22.86" fill="#f28c8c"/><rect x="948.20" y="664.49" width="35.46" height="22.86" fill="#8a84b8"/><rect x="983.66" y="664.49" width="35.46" height="22.86" fill="#ada5ce"/><rect x="1019.12" y="664.49" width="35.46" height="22.86" fill="#857fb4"/><rect x="1054.58" y="664.49" width="35.46" height="22.86" fill="#d6d0e6"/><rect x="1090.04" y="664.49" width="35.46" height="22.86" fill="#ada5ce"/><rect x="770.90" y="687.35" width="35.46" height="22.86" fill="#fac4c4"/><rect x="806.36" y="687.35" width="35.46" height="22.86" fill="#f5a0a0"/><rect x="841.82" y="687.35" width="35.46" height="22.86" fill="#fac8c8"/><rect x="877.28" y="687.35" width="35.46" height="22.86" fill="#ec6c6c"/><rect x="912.74" y="687.35" width="35.46" height="22.86" fill="#ed6f6f"/><rect x="948.20" y="687.35" width="35.46" height="22.86" fill="#7b75ae"/><rect x="983.66" y="687.35" width="35.46" height="22.86" fill="#7b75ae"/><rect x="1019.12" y="687.35" width="35.46" height="22.86" fill="#9e96c4"/><rect x="1054.58" y="687.35" width="35.46" height="22.86" fill="#c8c0de"/><rect x="1090.04" y="687.35" width="35.46" height="22.86" fill="#c8c0de"/><rect x="770.90" y="710.21" width="35.46" height="22.86" fill="#fde0de"/><rect x="806.36" y="710.21" width="35.46" height="22.86" fill="#fde0de"/><rect x="841.82" y="710.21" width="35.46" height="22.86" fill="#f5a0a0"/><rect x="877.28" y="710.21" width="35.46" height="22.86" fill="#ea6464"/><rect x="912.74" y="710.21" width="35.46" height="22.86" fill="#ec6c6c"/><rect x="948.20" y="710.21" width="35.46" height="22.86" fill="#9e96c4"/><rect x="983.66" y="710.21" width="35.46" height="22.86" fill="#7b75ae"/><rect x="1019.12" y="710.21" width="35.46" height="22.86" fill="#d6d0e6"/><rect x="1054.58" y="710.21" width="35.46" height="22.86" fill="#cdc5e1"/><rect x="1090.04" y="710.21" width="35.46" height="22.86" fill="#857fb4"/><rect x="770.90" y="733.07" width="35.46" height="22.86" fill="#f28c8c"/><rect x="806.36" y="733.07" width="35.46" height="22.86" fill="#f6aaaa"/><rect x="841.82" y="733.07" width="35.46" height="22.86" fill="#f7b3b3"/><rect x="877.28" y="733.07" width="35.46" height="22.86" fill="#f8b8b8"/><rect x="912.74" y="733.07" width="35.46" height="22.86" fill="#f7b3b3"/><rect x="948.20" y="733.07" width="35.46" height="22.86" fill="#fff0ee"/><rect x="983.66" y="733.07" width="35.46" height="22.86" fill="#d6d0e6"/><rect x="1019.12" y="733.07" width="35.46" height="22.86" fill="#fafafa"/><rect x="1054.58" y="733.07" width="35.46" height="22.86" fill="#c8c0de"/><rect x="1090.04" y="733.07" width="35.46" height="22.86" fill="#434a8c"/><rect x="770.90" y="755.93" width="35.46" height="22.86" fill="#fbcccc"/><rect x="806.36" y="755.93" width="35.46" height="22.86" fill="#f49999"/><rect x="841.82" y="755.93" width="35.46" height="22.86" fill="#fff0ee"/><rect x="877.28" y="755.93" width="35.46" height="22.86" fill="#e43c36"/><rect x="912.74" y="755.93" width="35.46" height="22.86" fill="#e1dcec"/><rect x="948.20" y="755.93" width="35.46" height="22.86" fill="#9a93c1"/><rect x="983.66" y="755.93" width="35.46" height="22.86" fill="#beb6d9"/><rect x="1019.12" y="755.93" width="35.46" height="22.86" fill="#dad4e8"/><rect x="1054.58" y="755.93" width="35.46" height="22.86" fill="#e8e4f0"/><rect x="1090.04" y="755.93" width="35.46" height="22.86" fill="#706aa5"/><rect x="770.90" y="778.79" width="35.46" height="22.86" fill="#f7b3b3"/><rect x="806.36" y="778.79" width="35.46" height="22.86" fill="#ee7676"/><rect x="841.82" y="778.79" width="35.46" height="22.86" fill="#f7b3b3"/><rect x="877.28" y="778.79" width="35.46" height="22.86" fill="#e64c4c"/><rect x="912.74" y="778.79" width="35.46" height="22.86" fill="#e1dcec"/><rect x="948.20" y="778.79" width="35.46" height="22.86" fill="#bbb3d7"/><rect x="983.66" y="778.79" width="35.46" height="22.86" fill="#9a93c1"/><rect x="1019.12" y="778.79" width="35.46" height="22.86" fill="#ada5ce"/><rect x="1054.58" y="778.79" width="35.46" height="22.86" fill="#a29ac6"/><rect x="1090.04" y="778.79" width="35.46" height="22.86" fill="#9a93c1"/><rect x="770.90" y="801.65" width="35.46" height="22.86" fill="#e5e0ee"/><rect x="806.36" y="801.65" width="35.46" height="22.86" fill="#fac4c4"/><rect x="841.82" y="801.65" width="35.46" height="22.86" fill="#e64c4c"/><rect x="877.28" y="801.65" width="35.46" height="22.86" fill="#f7b3b3"/><rect x="912.74" y="801.65" width="35.46" height="22.86" fill="#fbcccc"/><rect x="948.20" y="801.65" width="35.46" height="22.86" fill="#feecea"/><rect x="983.66" y="801.65" width="35.46" height="22.86" fill="#dad4e8"/><rect x="1019.12" y="801.65" width="35.46" height="22.86" fill="#535394"/><rect x="1054.58" y="801.65" width="35.46" height="22.86" fill="#9a93c1"/><rect x="1090.04" y="801.65" width="35.46" height="22.86" fill="#e1dcec"/><rect x="770.90" y="824.51" width="35.46" height="22.86" fill="#f6aaaa"/><rect x="806.36" y="824.51" width="35.46" height="22.86" fill="#f49696"/><rect x="841.82" y="824.51" width="35.46" height="22.86" fill="#f07c7c"/><rect x="877.28" y="824.51" width="35.46" height="22.86" fill="#f6aaaa"/><rect x="912.74" y="824.51" width="35.46" height="22.86" fill="#fde0de"/><rect x="948.20" y="824.51" width="35.46" height="22.86" fill="#c8c0de"/><rect x="983.66" y="824.51" width="35.46" height="22.86" fill="#fde0de"/><rect x="1019.12" y="824.51" width="35.46" height="22.86" fill="#535394"/><rect x="1054.58" y="824.51" width="35.46" height="22.86" fill="#c8c0de"/><rect x="1090.04" y="824.51" width="35.46" height="22.86" fill="#736da8"/><rect x="770.90" y="847.37" width="35.46" height="22.86" fill="#fcf5f4"/><rect x="806.36" y="847.37" width="35.46" height="22.86" fill="#ec6c6c"/><rect x="841.82" y="847.37" width="35.46" height="22.86" fill="#b4acd4"/><rect x="877.28" y="847.37" width="35.46" height="22.86" fill="#ea6464"/><rect x="912.74" y="847.37" width="35.46" height="22.86" fill="#f08080"/><rect x="948.20" y="847.37" width="35.46" height="22.86" fill="#efecf4"/><rect x="983.66" y="847.37" width="35.46" height="22.86" fill="#beb6d9"/><rect x="1019.12" y="847.37" width="35.46" height="22.86" fill="#7b75ae"/><rect x="1054.58" y="847.37" width="35.46" height="22.86" fill="#9a93c1"/><rect x="1090.04" y="847.37" width="35.46" height="22.86" fill="#b4acd4"/><rect x="770.90" y="870.23" width="35.46" height="22.86" fill="#eb6868"/><rect x="806.36" y="870.23" width="35.46" height="22.86" fill="#f7aeae"/><rect x="841.82" y="870.23" width="35.46" height="22.86" fill="#bbb3d7"/><rect x="877.28" y="870.23" width="35.46" height="22.86" fill="#f28888"/><rect x="912.74" y="870.23" width="35.46" height="22.86" fill="#f28c8c"/><rect x="948.20" y="870.23" width="35.46" height="22.86" fill="#b4acd4"/><rect x="983.66" y="870.23" width="35.46" height="22.86" fill="#ada5ce"/><rect x="1019.12" y="870.23" width="35.46" height="22.86" fill="#5c5a99"/><rect x="1054.58" y="870.23" width="35.46" height="22.86" fill="#beb6d9"/><rect x="1090.04" y="870.23" width="35.46" height="22.86" fill="#fafafa"/><rect x="770.90" y="893.09" width="35.46" height="22.86" fill="#ee7676"/><rect x="806.36" y="893.09" width="35.46" height="22.86" fill="#f28f8f"/><rect x="841.82" y="893.09" width="35.46" height="22.86" fill="#c8c0de"/><rect x="877.28" y="893.09" width="35.46" height="22.86" fill="#f49d9d"/><rect x="912.74" y="893.09" width="35.46" height="22.86" fill="#f6a5a5"/><rect x="948.20" y="893.09" width="35.46" height="22.86" fill="#f6f5f8"/><rect x="983.66" y="893.09" width="35.46" height="22.86" fill="#f8b8b8"/><rect x="1019.12" y="893.09" width="35.46" height="22.86" fill="#67629f"/><rect x="1054.58" y="893.09" width="35.46" height="22.86" fill="#6a64a0"/><rect x="1090.04" y="893.09" width="35.46" height="22.86" fill="#a29ac6"/><rect x="770.90" y="915.95" width="35.46" height="22.86" fill="#e64f4f"/><rect x="806.36" y="915.95" width="35.46" height="22.86" fill="#ed6f6f"/><rect x="841.82" y="915.95" width="35.46" height="22.86" fill="#fac8c8"/><rect x="877.28" y="915.95" width="35.46" height="22.86" fill="#fee4e2"/><rect x="912.74" y="915.95" width="35.46" height="22.86" fill="#c8c0de"/><rect x="948.20" y="915.95" width="35.46" height="22.86" fill="#fafafa"/><rect x="983.66" y="915.95" width="35.46" height="22.86" fill="#ddd8ea"/><rect x="1019.12" y="915.95" width="35.46" height="22.86" fill="#857fb4"/><rect x="1054.58" y="915.95" width="35.46" height="22.86" fill="#6a64a0"/><rect x="1090.04" y="915.95" width="35.46" height="22.86" fill="#d6d0e6"/><rect x="770.90" y="938.81" width="35.46" height="22.86" fill="#e95c5c"/><rect x="806.36" y="938.81" width="35.46" height="22.86" fill="#e85858"/><rect x="841.82" y="938.81" width="35.46" height="22.86" fill="#d6d0e6"/><rect x="877.28" y="938.81" width="35.46" height="22.86" fill="#fac8c8"/><rect x="912.74" y="938.81" width="35.46" height="22.86" fill="#fde0de"/><rect x="948.20" y="938.81" width="35.46" height="22.86" fill="#7b75ae"/><rect x="983.66" y="938.81" width="35.46" height="22.86" fill="#beb6d9"/><rect x="1019.12" y="938.81" width="35.46" height="22.86" fill="#9e96c4"/><rect x="1054.58" y="938.81" width="35.46" height="22.86" fill="#d6d0e6"/><rect x="1090.04" y="938.81" width="35.46" height="22.86" fill="#c5bddc"/><rect x="770.90" y="961.67" width="35.46" height="22.86" fill="#eb6868"/><rect x="806.36" y="961.67" width="35.46" height="22.86" fill="#f28c8c"/><rect x="841.82" y="961.67" width="35.46" height="22.86" fill="#fac4c4"/><rect x="877.28" y="961.67" width="35.46" height="22.86" fill="#f18484"/><rect x="912.74" y="961.67" width="35.46" height="22.86" fill="#fafafa"/><rect x="948.20" y="961.67" width="35.46" height="22.86" fill="#6d67a2"/><rect x="983.66" y="961.67" width="35.46" height="22.86" fill="#7b75ae"/><rect x="1019.12" y="961.67" width="35.46" height="22.86" fill="#bbb3d7"/><rect x="1054.58" y="961.67" width="35.46" height="22.86" fill="#fcf5f4"/><rect x="1090.04" y="961.67" width="35.46" height="22.86" fill="#b0a8d1"/><rect x="770.90" y="984.53" width="35.46" height="22.86" fill="#f8b8b8"/><rect x="806.36" y="984.53" width="35.46" height="22.86" fill="#e5413d"/><rect x="841.82" y="984.53" width="35.46" height="22.86" fill="#f6aaaa"/><rect x="877.28" y="984.53" width="35.46" height="22.86" fill="#f6a5a5"/><rect x="912.74" y="984.53" width="35.46" height="22.86" fill="#9a93c1"/><rect x="948.20" y="984.53" width="35.46" height="22.86" fill="#857fb4"/><rect x="983.66" y="984.53" width="35.46" height="22.86" fill="#e1dcec"/><rect x="1019.12" y="984.53" width="35.46" height="22.86" fill="#c8c0de"/><rect x="1054.58" y="984.53" width="35.46" height="22.86" fill="#b4acd4"/><rect x="1090.04" y="984.53" width="35.46" height="22.86" fill="#b4acd4"/><rect x="770.90" y="1007.39" width="35.46" height="22.86" fill="#ee7676"/><rect x="806.36" y="1007.39" width="35.46" height="22.86" fill="#f28888"/><rect x="841.82" y="1007.39" width="35.46" height="22.86" fill="#fbcccc"/><rect x="877.28" y="1007.39" width="35.46" height="22.86" fill="#e95c5c"/><rect x="912.74" y="1007.39" width="35.46" height="22.86" fill="#9a93c1"/><rect x="948.20" y="1007.39" width="35.46" height="22.86" fill="#857fb4"/><rect x="983.66" y="1007.39" width="35.46" height="22.86" fill="#ddd8ea"/><rect x="1019.12" y="1007.39" width="35.46" height="22.86" fill="#b0a8d1"/><rect x="1054.58" y="1007.39" width="35.46" height="22.86" fill="#ada5ce"/><rect x="1090.04" y="1007.39" width="35.46" height="22.86" fill="#b4acd4"/></g>
<g font-size="18.0" fill="#35302c" stroke="#35302c" stroke-width="0.25">
<g transform="translate(1129.8 109.23) scale(1 1.14)"><text id="t46" >DL-Tryptophan</text></g>
<g transform="translate(1129.8 132.09) scale(1 1.14)"><text id="t47" >Oleoyl ethylamide</text></g>
<g transform="translate(1129.8 154.95) scale(1 1.14)"><text id="t48" >PC (13:0/13:1)</text><rect x="36.64" y="-2.47" width="3.74" height="3.77" fill="#fefdfc" stroke="none"/><rect x="42.25" y="-2.47" width="3.59" height="3.77" fill="#fefdfc" stroke="none"/><rect x="76.65" y="-2.47" width="3.74" height="3.77" fill="#fefdfc" stroke="none"/><rect x="82.28" y="-2.47" width="3.60" height="3.77" fill="#fefdfc" stroke="none"/><rect x="101.67" y="-2.47" width="3.74" height="3.77" fill="#fefdfc" stroke="none"/><rect x="107.30" y="-2.47" width="3.60" height="3.77" fill="#fefdfc" stroke="none"/></g>
<g transform="translate(1129.8 177.81) scale(1 1.14)"><text id="t49" >15(R)-Prostaglandin D2</text><rect x="0.65" y="-2.47" width="3.74" height="3.77" fill="#fefdfc" stroke="none"/><rect x="6.26" y="-2.47" width="3.59" height="3.77" fill="#fefdfc" stroke="none"/></g>
<g transform="translate(1129.8 200.67) scale(1 1.14)"><text id="t50" >LPC 14:1</text><rect x="40.65" y="-2.47" width="3.74" height="3.77" fill="#fefdfc" stroke="none"/><rect x="46.27" y="-2.47" width="3.60" height="3.77" fill="#fefdfc" stroke="none"/><rect x="65.67" y="-2.47" width="3.74" height="3.77" fill="#fefdfc" stroke="none"/><rect x="71.29" y="-2.47" width="3.60" height="3.77" fill="#fefdfc" stroke="none"/></g>
<g transform="translate(1129.8 223.53) scale(1 1.14)"><text id="t51" >LPE 14:0</text><rect x="39.66" y="-2.47" width="3.74" height="3.77" fill="#fefdfc" stroke="none"/><rect x="45.28" y="-2.47" width="3.60" height="3.77" fill="#fefdfc" stroke="none"/></g>
<g transform="translate(1129.8 246.39) scale(1 1.14)"><text id="t52" >PC (14:1e/3:0)</text><rect x="36.64" y="-2.47" width="3.74" height="3.77" fill="#fefdfc" stroke="none"/><rect x="42.25" y="-2.47" width="3.59" height="3.77" fill="#fefdfc" stroke="none"/><rect x="61.65" y="-2.47" width="3.74" height="3.77" fill="#fefdfc" stroke="none"/><rect x="67.27" y="-2.47" width="3.60" height="3.77" fill="#fefdfc" stroke="none"/></g>
<g transform="translate(1129.8 269.25) scale(1 1.14)"><text id="t53" >LPE 12:0</text><rect x="39.66" y="-2.47" width="3.74" height="3.77" fill="#fefdfc" stroke="none"/><rect x="45.28" y="-2.47" width="3.60" height="3.77" fill="#fefdfc" stroke="none"/></g>
<g transform="translate(1129.8 292.11) scale(1 1.14)"><text id="t54" >N-Acetylornithine</text></g>
<g transform="translate(1129.8 314.97) scale(1 1.14)"><text id="t55" >PC (14:0e/18:2)</text><rect x="36.64" y="-2.47" width="3.74" height="3.77" fill="#fefdfc" stroke="none"/><rect x="42.25" y="-2.47" width="3.59" height="3.77" fill="#fefdfc" stroke="none"/><rect x="86.66" y="-2.47" width="3.74" height="3.77" fill="#fefdfc" stroke="none"/><rect x="92.29" y="-2.47" width="3.60" height="3.77" fill="#fefdfc" stroke="none"/></g>
<g transform="translate(1129.8 337.83) scale(1 1.14)"><text id="t56" >LPC 18:2</text><rect x="40.65" y="-2.47" width="3.74" height="3.77" fill="#fefdfc" stroke="none"/><rect x="46.27" y="-2.47" width="3.60" height="3.77" fill="#fefdfc" stroke="none"/></g>
<g transform="translate(1129.8 360.69) scale(1 1.14)"><text id="t57" >N-(1H-benzo[d]imidazol-2-yl)guanidine</text><rect x="25.62" y="-2.47" width="3.74" height="3.77" fill="#fefdfc" stroke="none"/><rect x="31.25" y="-2.47" width="3.60" height="3.77" fill="#fefdfc" stroke="none"/></g>
<g transform="translate(1129.8 383.55) scale(1 1.14)"><text id="t58" >α-Eleostearic acid</text></g>
<g transform="translate(1129.8 406.41) scale(1 1.14)"><text id="t59" >LPC 18:3</text><rect x="40.65" y="-2.47" width="3.74" height="3.77" fill="#fefdfc" stroke="none"/><rect x="46.27" y="-2.47" width="3.60" height="3.77" fill="#fefdfc" stroke="none"/></g>
<g transform="translate(1129.8 429.27) scale(1 1.14)"><text id="t60" >LPI 18:3</text><rect x="32.65" y="-2.47" width="3.74" height="3.77" fill="#fefdfc" stroke="none"/><rect x="38.27" y="-2.47" width="3.60" height="3.77" fill="#fefdfc" stroke="none"/></g>
<g transform="translate(1129.8 452.13) scale(1 1.14)"><text id="t61" >PC (16:2e/2:0)</text><rect x="36.64" y="-2.47" width="3.74" height="3.77" fill="#fefdfc" stroke="none"/><rect x="42.25" y="-2.47" width="3.59" height="3.77" fill="#fefdfc" stroke="none"/></g>
<g transform="translate(1129.8 474.99) scale(1 1.14)"><text id="t62" >LPE 18:3</text><rect x="39.66" y="-2.47" width="3.74" height="3.77" fill="#fefdfc" stroke="none"/><rect x="45.28" y="-2.47" width="3.60" height="3.77" fill="#fefdfc" stroke="none"/></g>
<g transform="translate(1129.8 497.85) scale(1 1.14)"><text id="t63" >(+/-)-CP 47,497-C7-Hydroxy metabolite</text></g>
<g transform="translate(1129.8 520.71) scale(1 1.14)"><text id="t64" >DGDG (18:2/16:3)</text><rect x="65.62" y="-2.47" width="3.74" height="3.77" fill="#fefdfc" stroke="none"/><rect x="71.25" y="-2.47" width="3.60" height="3.77" fill="#fefdfc" stroke="none"/><rect x="105.65" y="-2.47" width="3.74" height="3.77" fill="#fefdfc" stroke="none"/><rect x="111.27" y="-2.47" width="3.60" height="3.77" fill="#fefdfc" stroke="none"/></g>
<g transform="translate(1129.8 543.57) scale(1 1.14)"><text id="t65" >DL-Malic acid</text></g>
<g transform="translate(1129.8 566.42) scale(1 1.14)"><text id="t66" >Succinic acid</text></g>
<g transform="translate(1129.8 589.28) scale(1 1.14)"><text id="t67" >PC (16:2e/16:1)</text><rect x="36.64" y="-2.47" width="3.74" height="3.77" fill="#fefdfc" stroke="none"/><rect x="42.25" y="-2.47" width="3.59" height="3.77" fill="#fefdfc" stroke="none"/><rect x="86.66" y="-2.47" width="3.74" height="3.77" fill="#fefdfc" stroke="none"/><rect x="92.29" y="-2.47" width="3.60" height="3.77" fill="#fefdfc" stroke="none"/><rect x="111.68" y="-2.47" width="3.74" height="3.77" fill="#fefdfc" stroke="none"/><rect x="117.31" y="-2.47" width="3.60" height="3.77" fill="#fefdfc" stroke="none"/></g>
<g transform="translate(1129.8 612.14) scale(1 1.14)"><text id="t68" >PE (17:0/17:1)</text><rect x="35.63" y="-2.47" width="3.74" height="3.77" fill="#fefdfc" stroke="none"/><rect x="41.26" y="-2.47" width="3.60" height="3.77" fill="#fefdfc" stroke="none"/><rect x="75.66" y="-2.47" width="3.74" height="3.77" fill="#fefdfc" stroke="none"/><rect x="81.29" y="-2.47" width="3.60" height="3.77" fill="#fefdfc" stroke="none"/><rect x="100.68" y="-2.47" width="3.74" height="3.77" fill="#fefdfc" stroke="none"/><rect x="106.31" y="-2.47" width="3.60" height="3.77" fill="#fefdfc" stroke="none"/></g>
<g transform="translate(1129.8 635.00) scale(1 1.14)"><text id="t69" >ACar 20:0</text></g>
<g transform="translate(1129.8 657.86) scale(1 1.14)"><text id="t70" >Lauric acid ethyl ester</text></g>
<g transform="translate(1129.8 680.72) scale(1 1.14)"><text id="t71" >Cortisone</text></g>
<g transform="translate(1129.8 703.58) scale(1 1.14)"><text id="t72" >PE (15:0/15:1)</text><rect x="35.63" y="-2.47" width="3.74" height="3.77" fill="#fefdfc" stroke="none"/><rect x="41.26" y="-2.47" width="3.60" height="3.77" fill="#fefdfc" stroke="none"/><rect x="75.66" y="-2.47" width="3.74" height="3.77" fill="#fefdfc" stroke="none"/><rect x="81.29" y="-2.47" width="3.60" height="3.77" fill="#fefdfc" stroke="none"/><rect x="100.68" y="-2.47" width="3.74" height="3.77" fill="#fefdfc" stroke="none"/><rect x="106.31" y="-2.47" width="3.60" height="3.77" fill="#fefdfc" stroke="none"/></g>
<g transform="translate(1129.8 726.44) scale(1 1.14)"><text id="t73" >Ethyl myristate</text></g>
<g transform="translate(1129.8 749.30) scale(1 1.14)"><text id="t74" >1-Methylhistidine</text><rect x="0.65" y="-2.47" width="3.74" height="3.77" fill="#fefdfc" stroke="none"/><rect x="6.26" y="-2.47" width="3.59" height="3.77" fill="#fefdfc" stroke="none"/></g>
<g transform="translate(1129.8 772.16) scale(1 1.14)"><text id="t75" >PC (17:1/17:1)</text><rect x="36.64" y="-2.47" width="3.74" height="3.77" fill="#fefdfc" stroke="none"/><rect x="42.25" y="-2.47" width="3.59" height="3.77" fill="#fefdfc" stroke="none"/><rect x="61.65" y="-2.47" width="3.74" height="3.77" fill="#fefdfc" stroke="none"/><rect x="67.27" y="-2.47" width="3.60" height="3.77" fill="#fefdfc" stroke="none"/><rect x="76.65" y="-2.47" width="3.74" height="3.77" fill="#fefdfc" stroke="none"/><rect x="82.28" y="-2.47" width="3.60" height="3.77" fill="#fefdfc" stroke="none"/><rect x="101.67" y="-2.47" width="3.74" height="3.77" fill="#fefdfc" stroke="none"/><rect x="107.30" y="-2.47" width="3.60" height="3.77" fill="#fefdfc" stroke="none"/></g>
<g transform="translate(1129.8 795.02) scale(1 1.14)"><text id="t76" >D-(-)-Fructose</text></g>
<g transform="translate(1129.8 817.88) scale(1 1.14)"><text id="t77" >PC (16:0/18:1)</text><rect x="36.64" y="-2.47" width="3.74" height="3.77" fill="#fefdfc" stroke="none"/><rect x="42.25" y="-2.47" width="3.59" height="3.77" fill="#fefdfc" stroke="none"/><rect x="76.65" y="-2.47" width="3.74" height="3.77" fill="#fefdfc" stroke="none"/><rect x="82.28" y="-2.47" width="3.60" height="3.77" fill="#fefdfc" stroke="none"/><rect x="101.67" y="-2.47" width="3.74" height="3.77" fill="#fefdfc" stroke="none"/><rect x="107.30" y="-2.47" width="3.60" height="3.77" fill="#fefdfc" stroke="none"/></g>
<g transform="translate(1129.8 840.74) scale(1 1.14)"><text id="t78" >16-Hydroxyhexadecanoic acid</text><rect x="0.65" y="-2.47" width="3.74" height="3.77" fill="#fefdfc" stroke="none"/><rect x="6.26" y="-2.47" width="3.59" height="3.77" fill="#fefdfc" stroke="none"/></g>
<g transform="translate(1129.8 863.60) scale(1 1.14)"><text id="t79" >N-(4-chlorophenyl)-N'-cyclohexylthiourea</text></g>
<g transform="translate(1129.8 886.46) scale(1 1.14)"><text id="t80" >DL-Arginine</text></g>
<g transform="translate(1129.8 909.32) scale(1 1.14)"><text id="t81" >L(-)-Carnitine</text></g>
<g transform="translate(1129.8 932.18) scale(1 1.14)"><text id="t82" >N-Acetylhistamine</text></g>
<g transform="translate(1129.8 955.04) scale(1 1.14)"><text id="t83" >LPG 16:0</text><rect x="41.65" y="-2.47" width="3.74" height="3.77" fill="#fefdfc" stroke="none"/><rect x="47.28" y="-2.47" width="3.60" height="3.77" fill="#fefdfc" stroke="none"/></g>
<g transform="translate(1129.8 977.90) scale(1 1.14)"><text id="t84" >PC (16:1/18:1)</text><rect x="36.64" y="-2.47" width="3.74" height="3.77" fill="#fefdfc" stroke="none"/><rect x="42.25" y="-2.47" width="3.59" height="3.77" fill="#fefdfc" stroke="none"/><rect x="61.65" y="-2.47" width="3.74" height="3.77" fill="#fefdfc" stroke="none"/><rect x="67.27" y="-2.47" width="3.60" height="3.77" fill="#fefdfc" stroke="none"/><rect x="76.65" y="-2.47" width="3.74" height="3.77" fill="#fefdfc" stroke="none"/><rect x="82.28" y="-2.47" width="3.60" height="3.77" fill="#fefdfc" stroke="none"/><rect x="101.67" y="-2.47" width="3.74" height="3.77" fill="#fefdfc" stroke="none"/><rect x="107.30" y="-2.47" width="3.60" height="3.77" fill="#fefdfc" stroke="none"/></g>
<g transform="translate(1129.8 1000.76) scale(1 1.14)"><text id="t85" >PC (14:0/16:1)</text><rect x="36.64" y="-2.47" width="3.74" height="3.77" fill="#fefdfc" stroke="none"/><rect x="42.25" y="-2.47" width="3.59" height="3.77" fill="#fefdfc" stroke="none"/><rect x="76.65" y="-2.47" width="3.74" height="3.77" fill="#fefdfc" stroke="none"/><rect x="82.28" y="-2.47" width="3.60" height="3.77" fill="#fefdfc" stroke="none"/><rect x="101.67" y="-2.47" width="3.74" height="3.77" fill="#fefdfc" stroke="none"/><rect x="107.30" y="-2.47" width="3.60" height="3.77" fill="#fefdfc" stroke="none"/></g>
<g transform="translate(1129.8 1023.62) scale(1 1.14)"><text id="t86" >PC (16:0/16:1)</text><rect x="36.64" y="-2.47" width="3.74" height="3.77" fill="#fefdfc" stroke="none"/><rect x="42.25" y="-2.47" width="3.59" height="3.77" fill="#fefdfc" stroke="none"/><rect x="76.65" y="-2.47" width="3.74" height="3.77" fill="#fefdfc" stroke="none"/><rect x="82.28" y="-2.47" width="3.60" height="3.77" fill="#fefdfc" stroke="none"/><rect x="101.67" y="-2.47" width="3.74" height="3.77" fill="#fefdfc" stroke="none"/><rect x="107.30" y="-2.47" width="3.60" height="3.77" fill="#fefdfc" stroke="none"/></g>
</g>
<g font-size="21.3" fill="#302b27" stroke="#302b27" stroke-width="0.2">
<g transform="translate(774.5 1048.5) rotate(44.5)"><text id="t87" >C-1</text><rect x="23.39" y="-2.69" width="4.32" height="3.99" fill="#fefdfc" stroke="none"/><rect x="29.84" y="-2.69" width="4.15" height="3.99" fill="#fefdfc" stroke="none"/></g>
<g transform="translate(810.0 1048.5) rotate(44.5)"><text id="t88" >C-2</text></g>
<g transform="translate(845.4 1048.5) rotate(44.5)"><text id="t89" >C-3</text></g>
<g transform="translate(880.9 1048.5) rotate(44.5)"><text id="t90" >C-4</text></g>
<g transform="translate(916.4 1048.5) rotate(44.5)"><text id="t91" >C-5</text></g>
<g transform="translate(951.8 1046.5) rotate(44.5)"><text id="t92" >SB-1</text><rect x="36.42" y="-2.69" width="4.32" height="3.99" fill="#fefdfc" stroke="none"/><rect x="42.87" y="-2.69" width="4.15" height="3.99" fill="#fefdfc" stroke="none"/></g>
<g transform="translate(987.3 1046.5) rotate(44.5)"><text id="t93" >SB-2</text></g>
<g transform="translate(1022.7 1046.5) rotate(44.5)"><text id="t94" >SB-3</text></g>
<g transform="translate(1058.2 1046.5) rotate(44.5)"><text id="t95" >SB-4</text></g>
<g transform="translate(1093.7 1046.5) rotate(44.5)"><text id="t96" >SB-5</text></g>
</g>
<path d="M788.6,89.6V83.7H824.1V89.6M895.0,89.6V79.9H930.5V89.6M859.5,89.6V78.7H912.7V79.9M806.4,83.7V76.5H886.1V78.7M965.9,89.6V84.7H1001.4V89.6M1072.3,89.6V85.3H1107.8V89.6M1036.8,89.6V81.6H1090.0V85.3M983.7,84.7V76.7H1063.4V81.6M846.3,76.5V63.5H1023.6V76.7" fill="none" stroke="#221f1a" stroke-width="3.0" stroke-linecap="square"/>
<path d="M767.4,103.6H754.2V126.5H767.4M767.4,149.4H750.0V172.2H767.4M767.4,218.0H754.2V240.9H767.4M767.4,263.8H749.4V286.6H767.4M754.2,229.4H746.5V275.2H749.4M767.4,195.1H741.8V252.3H746.5M750.0,160.8H737.5V223.7H741.8M754.2,115.0H735.6V192.3H737.5M767.4,309.5H764.8V332.4H767.4M767.4,355.3H757.9V378.2H767.4M767.4,401.0H762.0V423.9H767.4M767.4,469.7H763.9V492.6H767.4M767.4,446.8H760.6V481.1H763.9M762.0,412.5H757.0V464.0H760.6M757.9,366.7H753.0V438.2H757.0M767.4,515.4H751.5V538.3H767.4M753.0,402.5H744.5V526.9H751.5M764.8,321.0H743.3V464.7H744.5M767.4,584.1H752.4V607.0H767.4M767.4,561.2H743.3V595.5H752.4M743.3,392.8H733.3V578.4H743.3M735.6,153.6H727.8V485.6H733.3M767.4,629.8H758.8V652.7H767.4M767.4,698.5H757.9V721.4H767.4M767.4,675.6H753.7V709.9H757.9M758.8,641.3H746.0V692.8H753.7M767.4,767.1H756.0V790.0H767.4M767.4,744.2H741.5V778.6H756.0M746.0,667.0H734.7V761.4H741.5M767.4,812.9H749.1V835.8H767.4M767.4,881.5H749.1V904.4H767.4M767.4,858.6H747.5V893.0H749.1M767.4,950.2H753.1V973.0H767.4M767.4,995.9H753.1V1018.8H767.4M753.1,961.6H746.7V1007.4H753.1M767.4,927.3H741.5V984.5H746.7M747.5,875.8H733.5V955.9H741.5M749.1,824.3H728.5V915.8H733.5M734.7,714.2H726.3V870.1H728.5M727.8,319.6H705.0V792.1H726.3" fill="none" stroke="#221f1a" stroke-width="3.0" stroke-linecap="square"/>
<defs><linearGradient id="cb" x1="0" y1="0" x2="0" y2="1">
<stop offset="0.000" stop-color="#e43b33"/>
<stop offset="0.103" stop-color="#e6504c"/>
<stop offset="0.202" stop-color="#ec6e6c"/>
<stop offset="0.302" stop-color="#f19a99"/>
<stop offset="0.401" stop-color="#f7caca"/>
<stop offset="0.476" stop-color="#fdeeee"/>
<stop offset="0.500" stop-color="#fdfcfc"/>
<stop offset="0.522" stop-color="#ebe6f2"/>
<stop offset="0.573" stop-color="#d7d0e6"/>
<stop offset="0.623" stop-color="#beb6d7"/>
<stop offset="0.698" stop-color="#9691be"/>
<stop offset="0.774" stop-color="#6e69a5"/>
<stop offset="0.823" stop-color="#5a5896"/>
<stop offset="0.897" stop-color="#4b5091"/>
<stop offset="1.000" stop-color="#3e4b8c"/>
</linearGradient></defs>
<rect x="1422.3" y="73.1" width="12.7" height="208.1" fill="url(#cb)"/>
<g font-size="17" fill="#302b27" stroke="#302b27" stroke-width="0.2">
<g transform="translate(1439.5 100.1) scale(1 1.12)"><text id="t97" >2</text></g>
<g transform="translate(1439.5 141.6) scale(1 1.12)"><text id="t98" >1</text><rect x="0.59" y="-2.37" width="3.56" height="3.67" fill="#fefdfc" stroke="none"/><rect x="5.89" y="-2.37" width="3.43" height="3.67" fill="#fefdfc" stroke="none"/></g>
<g transform="translate(1439.5 182.0) scale(1 1.12)"><text id="t99" >0</text></g>
<g transform="translate(1439.5 223.6) scale(1 1.12)"><text id="t100" >−1</text><rect x="10.50" y="-2.37" width="3.56" height="3.67" fill="#fefdfc" stroke="none"/><rect x="15.81" y="-2.37" width="3.43" height="3.67" fill="#fefdfc" stroke="none"/></g>
<g transform="translate(1439.5 265.1) scale(1 1.12)"><text id="t101" >−2</text></g>
</g>
</svg></body></html>
